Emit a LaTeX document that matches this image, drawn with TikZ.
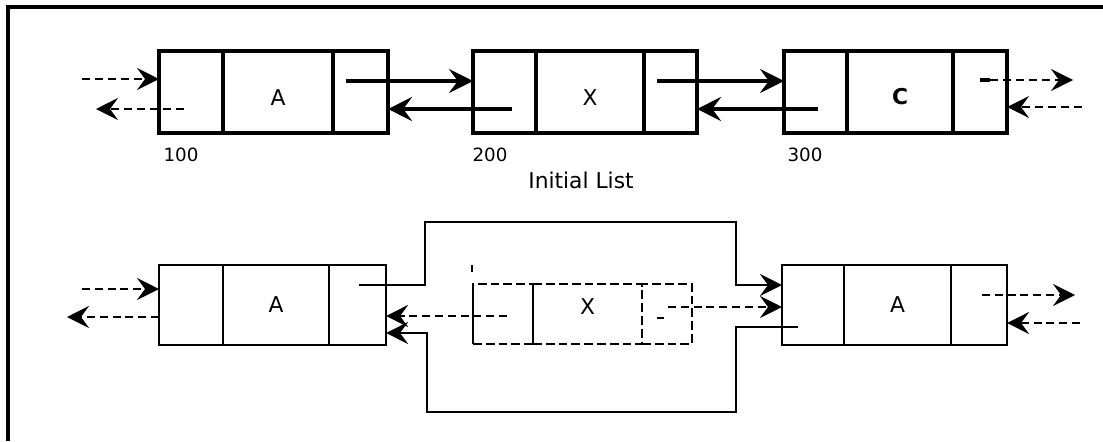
\documentclass[tikz,border=0pt]{standalone}
\usepackage{fontspec}
\setmainfont{DejaVu Sans}
\usetikzlibrary{positioning,arrows.meta}

\begin{document}
\begin{tikzpicture}[x=0.025cm, y=-0.025cm,
  font=\fontsize{15.5pt}{18pt}\selectfont,
  cell/.style={draw, line width=2.4pt, minimum height=2.05cm, text height=0.65cm, inner sep=0pt, outer sep=0pt},
  thincell/.style={draw, line width=1.3pt, minimum height=2cm, inner sep=0pt, outer sep=0pt},
  gonecell/.style={draw, line width=1.8pt, dash pattern=on 2.2mm off 1mm, minimum height=1.5cm, inner sep=0pt, outer sep=0pt},
  link/.style={line width=2.4pt, -{Stealth[length=6mm,width=6mm,inset=2.2mm]}},
  dlink/.style={line width=1.3pt, dash pattern=on 2mm off 1.25mm, -{Stealth[length=5.5mm,width=5.5mm,inset=2mm]}},
  dlinkb/.style={line width=1.8pt, dash pattern=on 2mm off 1.2mm, -{Stealth[length=5.5mm,width=5.5mm,inset=2mm]}},
  bypass/.style={line width=2pt, -{Stealth[length=5.5mm,width=5.5mm,inset=2mm]}},
  addr/.style={font=\fontsize{13pt}{16pt}\selectfont}]

\useasboundingbox (0,0) rectangle (1103,441);

% Frame (left and top only)
\draw[line width=3pt] (8,441) -- (8,7) -- (1103,7);

% ==================== INITIAL LIST ====================
% Node 100
\node[cell, minimum width=1.6cm] (aPrev) at (191,92) {};
\node[cell, minimum width=2.75cm, right=0pt of aPrev] (aData) {A};
\node[cell, minimum width=1.375cm, right=0pt of aData] (aNext) {};

% Node 200
\node[cell, minimum width=1.575cm] (xPrev) at (504.5,92) {};
\node[cell, minimum width=2.7cm, right=0pt of xPrev] (xData) {X};
\node[cell, minimum width=1.325cm, right=0pt of xData] (xNext) {};

% Node 300
\node[cell, minimum width=1.575cm] (cPrev) at (815.5,92) {};
\node[cell, minimum width=2.65cm, right=0pt of cPrev] (cData) {\textbf{C}};
\node[cell, minimum width=1.35cm, right=0pt of cData] (cNext) {};

% Addresses and caption
\node[addr] (n100) at (181,155) {100};
\node[addr] (n200) at (490,155) {200};
\node[addr] (n300) at (805,155) {300};
\node[addr, font=\fontsize{15.5pt}{18pt}\selectfont] (caption) at (581,180) {Initial List};

% Links into and out of node 100
\coordinate (aIn) at (82,79);
\draw[dlink] (aIn) -- (aPrev.west |- aIn);
\coordinate (aBack) at (184,109);
\coordinate (aBackEnd) at (96,109);
\draw[dlink] (aBack) -- (aBackEnd);

% 100 <-> 200
\coordinate (aFwd) at (346,81);
\draw[link] (aFwd) -- (xPrev.west |- aFwd);
\coordinate (xBack) at (512,109);
\draw[link] (xBack) -- (aNext.east |- xBack);

% 200 <-> 300
\coordinate (xFwd) at (657,81);
\draw[link] (xFwd) -- (cPrev.west |- xFwd);
\coordinate (cBack) at (818,109);
\draw[link] (cBack) -- (xNext.east |- cBack);

% Links out of node 300
\coordinate (cOut) at (980,80);
\draw[line width=2.4pt] (cOut) -- ++(10,0) coordinate (cOutDash);
\coordinate (cOutEnd) at (1073,80);
\draw[dlink] (cOutDash) -- (cOutEnd);
\coordinate (cIn) at (1082,107);
\draw[dlink] (cIn) -- (cNext.east |- cIn);

% ==================== AFTER DELETION ====================
% Left node
\node[thincell, minimum width=1.6cm] (bPrev) at (191,305) {};
\node[thincell, minimum width=2.65cm, right=0pt of bPrev] (bData) {A};
\node[thincell, minimum width=1.425cm, right=0pt of bData] (bNext) {};

% Deleted node (dashed)
\node[gonecell, minimum width=1.5cm] (dPrev) at (503,314) {};
\node[gonecell, minimum width=2.725cm, text depth=0.35cm, right=0pt of dPrev] (dData) {X};
\node[gonecell, minimum width=1.25cm, right=0pt of dData] (dNext) {};
\draw[line width=1.8pt] ([yshift=-0.1cm]dPrev.north west) -- (dPrev.south west);
\draw[line width=1.2pt] (472,265) -- (472,272);
\draw[line width=1.8pt] (657,318) -- (664,318);

% Right node
\node[thincell, minimum width=1.55cm] (ePrev) at (813,305) {};
\node[thincell, minimum width=2.675cm, right=0pt of ePrev] (eData) {A};
\node[thincell, minimum width=1.4cm, right=0pt of eData] (eNext) {};

% Links into and out of left node
\coordinate (bIn) at (82,289);
\draw[dlinkb] (bIn) -- (bPrev.west |- bIn);
\coordinate (bOutEnd) at (67,317);
\draw[dlinkb] (bPrev.west |- bOutEnd) -- (bOutEnd);

% Bypass over the deleted node
\coordinate (bFwd) at (359,285);
\draw[bypass] (bFwd) -| (425,222) -| (736,285) -- (ePrev.west |- bFwd);
\coordinate (eBack) at (798,327);
\coordinate (bBackY) at (427,333);
\draw[bypass] (eBack) -| (736,412) -| (bBackY) -- (bNext.east |- bBackY);

% Old links of the deleted node
\coordinate (dBack) at (507,316);
\draw[dlinkb] (dBack) -- (bNext.east |- dBack);
\coordinate (dFwd) at (668,307);
\draw[dlinkb] (dFwd) -- (ePrev.west |- dFwd);

% Links out of right node
\coordinate (eOut) at (982,295);
\coordinate (eOutEnd) at (1075,295);
\draw[dlinkb] (eOut) -- (eOutEnd);
\coordinate (eIn) at (1080,323);
\draw[dlinkb] (eIn) -- (eNext.east |- eIn);

\end{tikzpicture}
\end{document}
